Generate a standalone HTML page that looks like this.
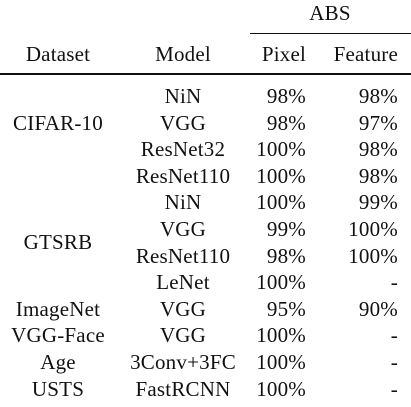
<!DOCTYPE html>
<html><head><meta charset="utf-8"><style>
body{margin:0;width:411px;height:407px;background:#fff;position:relative;overflow:hidden;font-family:"Liberation Serif",serif;font-size:21px;letter-spacing:0.2px;color:#111}
.t{position:absolute;line-height:22px;white-space:nowrap}
.c{transform:translateX(-50%)}
.r{transform:translateX(-100%)}
.rule{position:absolute;background:#111}
</style></head><body>
<div class="t c" style="left:330px;top:2px">ABS</div>
<div class="rule" style="left:250px;top:33px;width:161px;height:1px"></div>
<div class="t c" style="left:58px;top:43px">Dataset</div>
<div class="t c" style="left:183px;top:43px">Model</div>
<div class="t r" style="left:306px;top:43px">Pixel</div>
<div class="t r" style="left:398px;top:43px">Feature</div>
<div class="rule" style="left:0;top:73px;width:411px;height:2px"></div>
<div id="body"></div>
<script>
const models=["NiN","VGG","ResNet32","ResNet110","NiN","VGG","ResNet110","LeNet","VGG","VGG","3Conv+3FC","FastRCNN"];
const pixel=["98%","98%","100%","100%","100%","99%","98%","100%","95%","100%","100%","100%"];
const feature=["98%","97%","98%","98%","99%","100%","100%","-","90%","-","-","-"];
const datasets=[["CIFAR-10",1],["GTSRB",5.5],["ImageNet",8],["VGG-Face",9],["Age",10],["USTS",11]];
const y0=85,dy=26.6;
const b=document.getElementById('body');
function add(txt,cls,x,y,name){const d=document.createElement('div');d.className='t '+cls;d.textContent=txt;d.style.left=x+'px';d.style.top=y+'px';


b.appendChild(d);}
models.forEach((m,i)=>{const y=y0+i*dy;
add(m,'c',183,y,'model-cell');
add(pixel[i],'r',306,y,'pixel-cell');
add(feature[i],'r',398,y,'feature-cell');});
datasets.forEach(([n,r])=>{add(n,'c',58,y0+r*dy,'dataset-cell');});
</script>
</body></html>
